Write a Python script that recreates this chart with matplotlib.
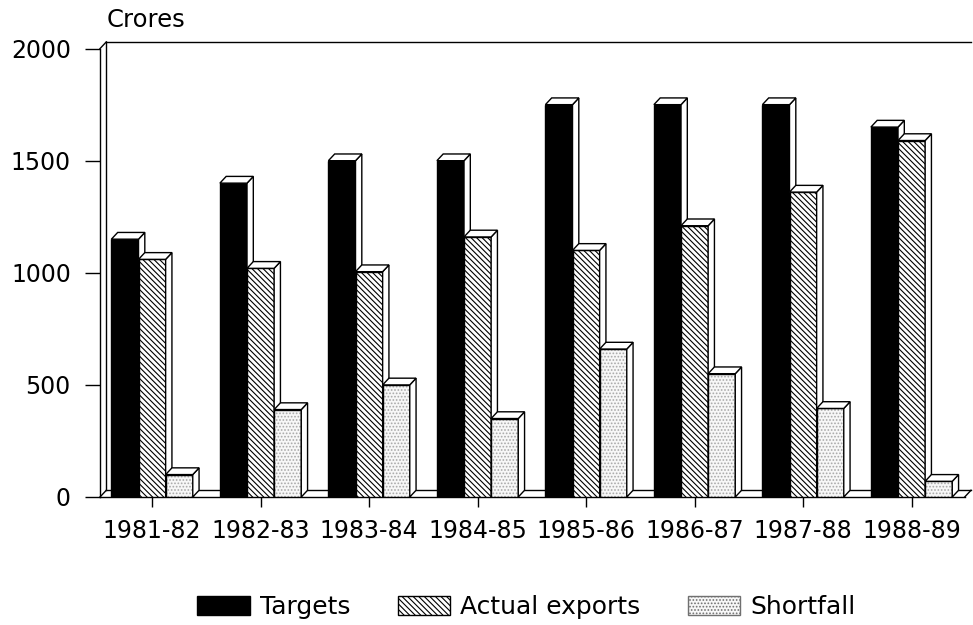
import numpy as np
import matplotlib
matplotlib.use("Agg")
import matplotlib.pyplot as plt
from matplotlib.patches import Polygon, Patch

cats = ["1981-82", "1982-83", "1983-84", "1984-85", "1985-86", "1986-87", "1987-88", "1988-89"]
targets = [1150, 1400, 1500, 1500, 1750, 1750, 1750, 1650]
actual = [1060, 1020, 1005, 1160, 1100, 1210, 1360, 1590]
shortfall = [100, 390, 500, 350, 660, 550, 395, 70]
yticks = [0, 500, 1000, 1500, 2000]
series_names = ["Targets", "Actual exports", "Shortfall"]

plt.rcParams["font.family"] = ["DejaVu Sans"]
plt.rcParams["hatch.linewidth"] = 0.8

fig = plt.figure(figsize=(9.73, 6.25), dpi=100)
ax = fig.add_axes([100 / 973, 128 / 625, 871 / 973, 454 / 625])

x = np.arange(len(cats))
w = 0.25
dx = 0.058
dy = 30
xmin, xmax = -0.48, -0.48 + 871 / 108.5
ytop = 2025
ax.set_xlim(xmin, xmax)
ax.set_ylim(0, ytop)
for s in ax.spines.values():
    s.set_visible(False)

HATCH = "\\" * 6
styles = [
    dict(facecolor="black", edgecolor="black", hatch=None),
    dict(facecolor="white", edgecolor="black", hatch=HATCH),
    dict(facecolor="#f7f7f7", edgecolor="#a8a8a8", hatch="....."),
]
offsets = [-w, 0, w]
data = [targets, actual, shortfall]

for s, (vals, off, st) in enumerate(zip(data, offsets, styles)):
    base = 2 + s * 3
    if s == 0:
        ax.bar(x + off, vals, w, facecolor=st["facecolor"], edgecolor=st["edgecolor"],
               linewidth=1.0, zorder=base)
    else:
        ax.bar(x + off, vals, w, facecolor=st["facecolor"], edgecolor=st["edgecolor"],
               hatch=st["hatch"], linewidth=0, zorder=base)
        ax.bar(x + off, vals, w, fill=False, edgecolor="black", linewidth=1.0, zorder=base + 0.5)
    for xi, h in zip(x, vals):
        l = xi + off - w / 2
        r = l + w
        side = Polygon([(r, 0), (r + dx, dy), (r + dx, h + dy), (r, h)], closed=True,
                       facecolor="white", edgecolor="black", linewidth=1.0, zorder=base + 1)
        top = Polygon([(l, h), (l + dx, h + dy), (r + dx, h + dy), (r, h)], closed=True,
                      facecolor="white", edgecolor="black", linewidth=1.0, zorder=base + 1)
        ax.add_patch(side)
        ax.add_patch(top)

# 3D frame: left wall, back wall top, floor
lk = dict(color="black", linewidth=1.0, clip_on=False, zorder=1)
ax.plot([xmin, xmin], [0, 2000], **lk)
ax.plot([xmin + dx, xmin + dx], [dy, 2000 + dy], **lk)
ax.plot([xmin, xmin + dx], [2000, 2000 + dy], **lk)
ax.plot([xmin + dx, xmax], [2000 + dy, 2000 + dy], **lk)
ax.plot([xmin, xmax - dx], [0, 0], **lk)
ax.plot([xmin + dx, xmax], [dy, dy], **lk)
ax.plot([xmin, xmin + dx], [0, dy], **lk)
ax.plot([xmax - dx, xmax], [0, dy], **lk)

ax.set_xticks(x)
ax.set_xticklabels(cats, fontsize=17)
ax.set_yticks(yticks)
ax.set_yticklabels([str(v) for v in yticks], fontsize=17)
ax.tick_params(axis="both", direction="out", width=1.0, color="black")
ax.tick_params(axis="x", length=7, pad=9)
ax.tick_params(axis="y", length=11, pad=10)

fig.text(107 / 973, 1 - 20 / 625, "Crores", fontsize=17.5, va="center", ha="left")

handles = [
    Patch(facecolor="black", edgecolor="black"),
    Patch(facecolor="white", edgecolor="black", hatch=HATCH),
    Patch(facecolor="#f7f7f7", edgecolor="#707070", hatch="....."),
]
fig.legend(handles, series_names, loc="center", bbox_to_anchor=(0.541, 1 - 607 / 625),
           ncol=3, frameon=False, fontsize=18, handlelength=2.1, handleheight=0.8,
           handletextpad=0.4, columnspacing=1.9)

fig.savefig("out.png", dpi=100)
